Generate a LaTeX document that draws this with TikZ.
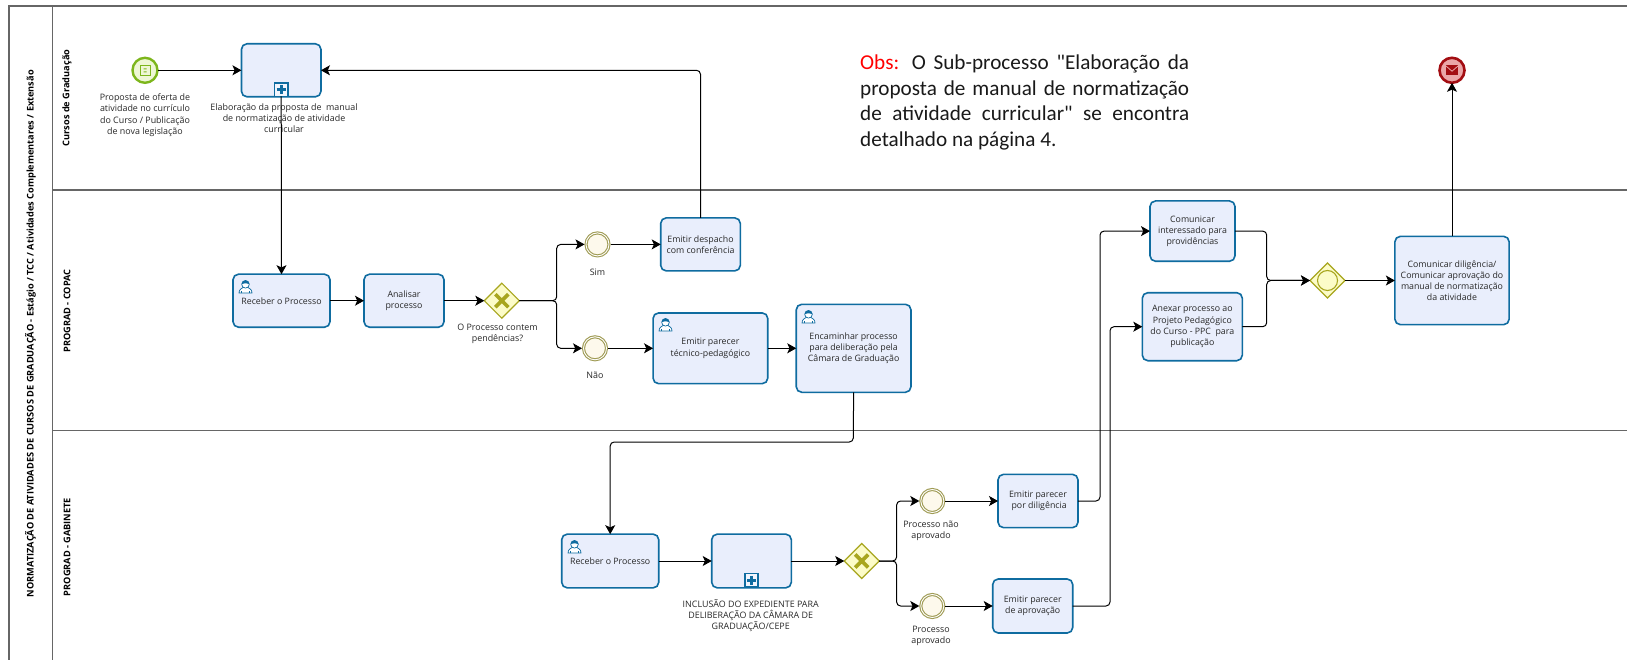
\documentclass[tikz,border=0pt]{standalone}
\usepackage{fontspec}
\setmainfont{Open Sans}
\newfontfamily\obsfont{Carlito}
\usetikzlibrary{arrows.meta,shapes.geometric}
\definecolor{lanec}{HTML}{666666}
\definecolor{taskb}{HTML}{0F6CA0}
\definecolor{taskf}{HTML}{E9EEFC}
\definecolor{txt}{HTML}{282828}
\definecolor{startb}{HTML}{7DB61C}
\definecolor{startf}{HTML}{EEF7D5}
\definecolor{gateb}{HTML}{A8A61E}
\definecolor{gatef}{HTML}{FCFCC8}
\definecolor{interb}{HTML}{A09C55}
\definecolor{interf}{HTML}{FDF9EC}
\definecolor{endb}{HTML}{A30D12}
\definecolor{endf}{HTML}{EBA6A8}
\tikzset{
  lane/.style={draw=lanec,line width=1.2pt},
  task/.style={draw=taskb,fill=taskf,line width=1.6pt,rounded corners=5.5pt,align=center,text=txt,font=\fontsize{8.8}{11.2}\selectfont,inner sep=1pt,outer sep=0pt},
  lbl/.style={align=center,text=txt,font=\fontsize{8.9}{11.3}\selectfont,inner sep=0pt},
  lanelbl/.style={rotate=90,font=\fontsize{9.2}{10}\selectfont\bfseries,text=black,inner sep=0pt},
  gate/.style={diamond,draw=gateb,fill=gatef,line width=1.2pt,minimum width=35pt,minimum height=35pt,inner sep=0pt,outer sep=0pt},
  inter/.style={circle,draw=interb,fill=interf,line width=1.1pt,double=white,double distance=0.9pt,minimum size=23pt,inner sep=0pt,outer sep=1.5pt},
  flow/.style={draw=black,line width=1pt,rounded corners=4pt,-{Stealth[length=9pt,width=10pt,inset=2.2pt]}},
  plusbox/.style={draw=taskb,fill=taskf!60!white,line width=1.6pt,minimum size=13.5pt,inner sep=0pt,outer sep=0pt},
  usericon/.pic={
    \draw[taskb,line width=0.7pt,fill=white] (-6.5,6.5) .. controls (-6.5,2.5) and (-3.5,2) .. (-2.5,1) -- (2.5,1) .. controls (3.5,2) and (6.5,2.5) .. (6.5,6.5) -- cycle;
    \draw[taskb,line width=0.7pt,fill=white] (0,-2.2) circle (3.8pt);
    \fill[taskb] (-3.8,-2.4) arc (180:0:3.8pt) .. controls (1.5,-3.6) and (-1.5,-3.6) .. (-3.8,-2.4) -- cycle;
    \draw[taskb,line width=0.5pt] (-3.8,6.5) -- (-3.8,4.2) (3.8,6.5) -- (3.8,4.2);
  },
  gatex/.pic={
    \draw[gateb,line width=3.6pt] (-6.5,-6.5) -- (6.5,6.5) (-6.5,6.5) -- (6.5,-6.5);
  },
  plusmark/.pic={
    \draw[taskb,line width=2.8pt] (-4.5,0) -- (4.5,0) (0,-4.5) -- (0,4.5);
  },
}
\begin{document}
\begin{tikzpicture}[x=1pt,y=-1pt]
\useasboundingbox (0,0) rectangle (1627,660);
\fill[white] (0,0) rectangle (1627,660);
% pool and lanes
\draw[lane] (9,660) -- (9,6) -- (1627,6);
\draw[lane] (52.7,6) -- (52.7,660);
\draw[lane] (52.7,190) -- (1627,190);
\draw[lane] (52.7,430.7) -- (1627,430.7);
\node[lanelbl] (pooltitle) at (30.5,333.6) {NORMATIZAÇÃO DE ATIVIDADES DE CURSOS DE GRADUAÇÃO - Estágio / TCC / Atividades Complementares / Extensão};
\node[lanelbl] (lane1) at (67,98) {Cursos de Graduação};
\node[lanelbl] (lane2) at (67,311) {PROGRAD - COPAC};
\node[lanelbl] (lane3) at (67,547) {PROGRAD - GABINETE};

% events
\node[circle,draw=startb,fill=startf,line width=2.4pt,minimum size=25pt,inner sep=0pt,outer sep=0pt] (start) at (145,70.3) {};
\draw[startb,line width=0.9pt] (140,65.3) rectangle (150,75.3);
\fill[startb] (143.5,68.3) rectangle (146.5,69.5) (143.5,71.3) rectangle (146.5,72.5);
\node[circle,draw=endb,fill=endf,line width=2.6pt,minimum size=25pt,inner sep=0pt,outer sep=0pt] (end) at (1452,70.3) {};
\fill[endb] (1446,65.5) rectangle (1458,75.3);
\draw[endf,line width=0.8pt] (1446,66) -- (1452,71.2) -- (1458,66);

% tasks
\node[task,minimum width=79.5pt,minimum height=53pt] (sub1) at (281.2,70.3) {};
\node[task,minimum width=97pt,minimum height=53pt] (rec1) at (281.5,300.7) {Receber o Processo};
\node[task,minimum width=80pt,minimum height=53pt] (ana) at (404,300.7) {Analisar\\processo};
\node[task,minimum width=79.6pt,minimum height=53pt] (desp) at (700.5,244.4) {Emitir despacho\\com conferência};
\node[task,minimum width=114.7pt,minimum height=70.7pt] (tec) at (710.4,348.3) {Emitir parecer\\técnico-pedagógico};
\node[task,minimum width=114.7pt,minimum height=88pt] (enc) at (853.6,348.3) {Encaminhar processo\\para deliberação pela\\Câmara de Graduação};
\node[task,minimum width=85pt,minimum height=60.3pt] (com) at (1192.5,231.1) {Comunicar\\interessado para\\providências};
\node[task,minimum width=100pt,minimum height=68pt] (anx) at (1192.3,326.7) {Anexar processo ao\\Projeto Pedagógico\\do Curso - PPC\ \ para\\publicação};
\node[task,minimum width=114.3pt,minimum height=88.3pt] (dil) at (1452,280.5) {Comunicar diligência/\\Comunicar aprovação do\\manual de normatização\\da atividade};
\node[task,minimum width=97pt,minimum height=53.7pt] (rec2) at (610.2,561) {Receber o Processo};
\node[task,minimum width=79.6pt,minimum height=53.7pt] (sub2) at (751.5,561) {};
\node[task,minimum width=80pt,minimum height=53.3pt] (edil) at (1038,501) {Emitir parecer\\\ por diligência};
\node[task,minimum width=80pt,minimum height=54pt] (eapr) at (1032.7,606) {Emitir parecer\\de aprovação};

% task markers
\node[plusbox] (plus1) at (281.2,89.7) {};
\pic at (281.2,89.7) {plusmark};
\node[plusbox] (plus2) at (751.5,580.3) {};
\pic at (751.5,580.3) {plusmark};
\pic at (245.5,286.5) {usericon};
\pic at (665.5,324.5) {usericon};
\pic at (808.5,316.5) {usericon};
\pic at (574.5,546.5) {usericon};

% gateways
\node[gate] (g1) at (501.8,300.7) {};
\pic at (501.8,300.7) {gatex};
\node[gate] (g2) at (861.7,561) {};
\pic at (861.7,561) {gatex};
\node[gate] (g3) at (1327.5,280.5) {};
\draw[gateb,line width=1.1pt] (1327.5,280.5) circle (10pt);
\node[inter] (sim) at (597.5,244.4) {};
\node[inter] (nao) at (595,348.3) {};
\node[inter] (pna) at (932.3,501) {};
\node[inter] (pap) at (932.3,606) {};

% labels
\node[lbl] (l0) at (145,115.3) {Proposta de oferta de\\atividade no currículo\\do Curso / Publicação\\de nova legislação};
\node[lbl] (l1) at (284,118.3) {Elaboração da proposta de\ \ manual\\de normatização de atividade\\curricular};
\node[lbl] (l2) at (497.5,333.5) {O Processo contem\\pendências?};
\node[lbl] (l3) at (597.5,272.5) {Sim};
\node[lbl] (l4) at (595,375.5) {Não};
\node[lbl] (l5) at (750.7,615.5) {INCLUSÃO DO EXPEDIENTE PARA\\DELIBERAÇÃO DA CÂMARA DE\\GRADUAÇÃO/CEPE};
\node[lbl] (l6) at (931,531) {Processo não\\aprovado};
\node[lbl] (l7) at (931,636) {Processo\\aprovado};
\node[align=left,inner sep=0pt,font=\obsfont\fontsize{21.2}{25.5}\selectfont,text=black!90,anchor=north west] (obs) at (860,55) {\makebox[329pt][s]{\textcolor{red}{Obs:} O Sub-processo "Elaboração da}\\\makebox[329pt][s]{proposta de manual de normatização}\\\makebox[329pt][s]{de atividade curricular" se encontra}\\detalhado na página 4.};

% connectors
\coordinate (c1) at (desp.north |- sub1.east);
\coordinate (c2) at (853.3,442);
\coordinate (c3) at (610.2,442);
\coordinate (j1) at (556.7,300.7);
\coordinate (j2) at (896.6,561);
\coordinate (j3) at (1100,501);
\coordinate (j4) at (1110,606);
\coordinate (j5) at (1266.7,280.5);
\draw[flow] (start.east) -- (sub1.west);
\draw[flow] (desp.north) -- (c1) -- (sub1.east);
\draw[flow] (plus1.south) -- (rec1.north);
\draw[flow] (rec1.east) -- (ana.west);
\draw[flow] (ana.east) -- (g1.west);
\draw[flow] (g1.east) -- (j1) |- (sim.west);
\draw[flow] (g1.east) -- (j1) |- (nao.west);
\draw[flow] (sim.east) -- (desp.west);
\draw[flow] (nao.east) -- (tec.west);
\draw[flow] (tec.east) -- (enc.west);
\draw[flow] (enc.south) -- (c2) -- (c3) -- (rec2.north);
\draw[flow] (rec2.east) -- (sub2.west);
\draw[flow] (sub2.east) -- (g2.west);
\draw[flow] (g2.east) -- (j2) |- (pna.west);
\draw[flow] (g2.east) -- (j2) |- (pap.west);
\draw[flow] (pna.east) -- (edil.west);
\draw[flow] (pap.east) -- (eapr.west);
\draw[flow] (edil.east) -- (j3) |- (com.west);
\draw[flow] (eapr.east) -- (j4) |- (anx.west);
\draw[flow] (com.east) -| (j5) -- (g3.west);
\draw[flow] (anx.east) -| (j5) -- (g3.west);
\draw[flow] (g3.east) -- (dil.west);
\draw[flow] (dil.north) -- (end.south);
\end{tikzpicture}
\end{document}
